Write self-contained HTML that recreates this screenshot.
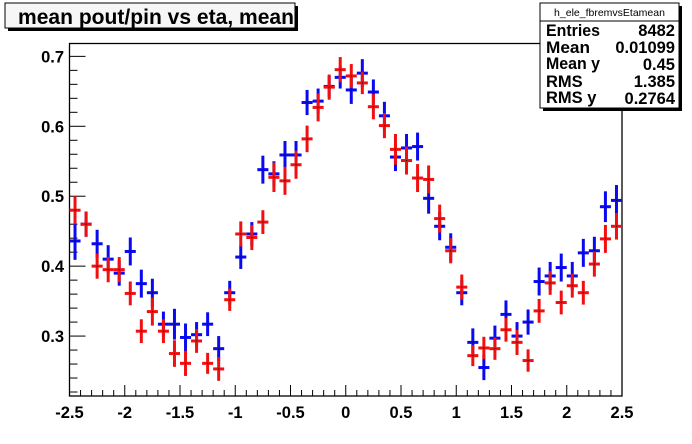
<!DOCTYPE html>
<html><head><meta charset="utf-8"><style>
body{margin:0;background:#fff;}
svg{display:block;font-family:"Liberation Sans",sans-serif;font-weight:bold;}
</style></head><body>
<svg id="chart" width="692" height="444" viewBox="0 0 692 444">
<rect x="0" y="0" width="692" height="444" fill="#fff"/>
<g>
<rect x="8" y="6" width="290" height="25" fill="#000"/>
<rect x="5" y="3" width="290" height="25" fill="#f6f6f6" stroke="#000" stroke-width="1"/>
<text x="18" y="24" font-size="21" textLength="276" lengthAdjust="spacingAndGlyphs">mean pout/pin vs eta, mean</text>
</g>
<rect x="69.5" y="43.5" width="552.5" height="352.5" fill="none" stroke="#000" stroke-width="1.3"/>
<g id="axes"></g>
<g id="marks"></g>
<g>
<rect x="543" y="6" width="139" height="105" fill="#000"/>
<rect x="540" y="3" width="139" height="105" fill="#fff" stroke="#000" stroke-width="1"/>
<line x1="540" y1="21" x2="679" y2="21" stroke="#000"/>
<text x="609.5" y="16" font-size="10.5" text-anchor="middle" font-weight="normal">h_ele_fbremvsEtamean</text>
<g font-size="16.5">
<text x="546" y="36" textLength="54" lengthAdjust="spacingAndGlyphs">Entries</text><text x="675" y="36" text-anchor="end">8482</text>
<text x="546" y="53" textLength="44" lengthAdjust="spacingAndGlyphs">Mean</text><text x="675" y="53" text-anchor="end">0.01099</text>
<text x="546" y="69" textLength="54" lengthAdjust="spacingAndGlyphs">Mean y</text><text x="675" y="70" text-anchor="end">0.45</text>
<text x="546" y="87">RMS</text><text x="675" y="87" text-anchor="end">1.385</text>
<text x="546" y="103">RMS y</text><text x="675" y="104" text-anchor="end">0.2764</text>
</g>
</g>
</svg>
<script>
const xTicks = [-2.5,-2,-1.5,-1,-0.5,0,0.5,1,1.5,2,2.5];
const xTickLabels = ["-2.5","-2","-1.5","-1","-0.5","0","0.5","1","1.5","2","2.5"];
const yTicks = [0.3,0.4,0.5,0.6,0.7];
const yTickLabels = ["0.3","0.4","0.5","0.6","0.7"];
const binCenters = [-2.45,-2.35,-2.25,-2.15,-2.05,-1.95,-1.85,-1.75,-1.65,-1.55,-1.45,-1.35,-1.25,-1.15,-1.05,-0.95,-0.85,-0.75,-0.65,-0.55,-0.45,-0.35,-0.25,-0.15,-0.05,0.05,0.15,0.25,0.35,0.45,0.55,0.65,0.75,0.85,0.95,1.05,1.15,1.25,1.35,1.45,1.55,1.65,1.75,1.85,1.95,2.05,2.15,2.25,2.35,2.45];
const blueValues = [0.436,0.46,0.432,0.41,0.39,0.421,0.375,0.362,0.317,0.317,0.298,0.302,0.317,0.282,0.362,0.413,0.446,0.538,0.532,0.559,0.559,0.634,0.636,0.657,0.67,0.652,0.676,0.649,0.615,0.556,0.569,0.571,0.497,0.457,0.427,0.362,0.291,0.255,0.297,0.331,0.3,0.32,0.378,0.386,0.398,0.386,0.419,0.422,0.485,0.494];
const redValues = [0.48,0.46,0.4,0.395,0.395,0.361,0.307,0.335,0.307,0.275,0.261,0.293,0.261,0.253,0.352,0.446,0.441,0.463,0.527,0.522,0.545,0.582,0.627,0.656,0.681,0.672,0.662,0.628,0.601,0.567,0.551,0.526,0.524,0.468,0.422,0.37,0.272,0.283,0.282,0.309,0.291,0.265,0.336,0.376,0.348,0.372,0.362,0.403,0.439,0.457];
const blueErrors = [0.027,0.018,0.02,0.02,0.018,0.02,0.02,0.02,0.018,0.022,0.02,0.018,0.017,0.018,0.017,0.017,0.017,0.02,0.018,0.02,0.02,0.018,0.018,0.015,0.016,0.02,0.02,0.018,0.02,0.02,0.02,0.02,0.022,0.02,0.02,0.018,0.02,0.018,0.018,0.02,0.02,0.018,0.02,0.02,0.02,0.02,0.02,0.02,0.022,0.022];
const redErrors = [0.02,0.018,0.018,0.018,0.018,0.017,0.017,0.02,0.017,0.019,0.018,0.017,0.015,0.017,0.016,0.018,0.018,0.017,0.021,0.02,0.02,0.019,0.02,0.018,0.018,0.017,0.016,0.018,0.018,0.022,0.02,0.02,0.02,0.02,0.018,0.018,0.015,0.016,0.016,0.017,0.018,0.016,0.017,0.017,0.017,0.017,0.017,0.018,0.02,0.019];
const X0=69.5,X1=622,Y0=396,Y1=43.5;
const xmin=-2.5,xmax=2.5,ymin=0.2143,ymax=0.7184;
const sx=v=>X0+(v-xmin)/(xmax-xmin)*(X1-X0);
const sy=v=>Y0-(v-ymin)/(ymax-ymin)*(Y0-Y1);
const NS="http://www.w3.org/2000/svg";
const axes=document.getElementById('axes');
const marks=document.getElementById('marks');
function mk(tag,attrs,parent){const e=document.createElementNS(NS,tag);for(const k in attrs)e.setAttribute(k,attrs[k]);parent.appendChild(e);return e;}
for(let i=0;i<=50;i++){
  const v=xmin+i*0.1;const major=(i%5===0);
  const t=mk('line',{x1:sx(v),x2:sx(v),y1:Y0,y2:Y0-(major?11:6),stroke:'#000','stroke-width':1},axes);
  
  
}
xTicks.forEach((v,i)=>{
  const t=mk('text',{x:sx(v),y:418,'font-size':16.5,'text-anchor':'middle'},axes);
  t.textContent=xTickLabels[i];
  
  
});
for(let v=0.22;v<0.7184;v+=0.02){
  const vv=Math.round(v*100)/100;const major=Math.abs(vv*10-Math.round(vv*10))<1e-6;
  const t=mk('line',{x1:X0,x2:X0+(major?16:8),y1:sy(vv),y2:sy(vv),stroke:'#000','stroke-width':1},axes);
  
  
}
yTicks.forEach((v,i)=>{
  const t=mk('text',{x:64,y:sy(v)+6,'font-size':16.5,'text-anchor':'end'},axes);
  t.textContent=yTickLabels[i];
  
  
});
function series(vals,errs,color,name){
  const g=mk('g',{},marks);
  
  
  const hw=(sx(0.1)-sx(0))/2;
  binCenters.forEach((c,i)=>{
    const x=sx(c),y=sy(vals[i]);
    const p=mk('g',{},g);
    
    
    mk('line',{x1:x,x2:x,y1:sy(vals[i]+errs[i]),y2:sy(vals[i]-errs[i]),stroke:color,'stroke-width':3},p);
    mk('line',{x1:x-hw,x2:x+hw,y1:y,y2:y,stroke:color,'stroke-width':3},p);
    mk('rect',{x:x-0.5,y:y-0.5,width:1,height:1,fill:'#000'},p);
  });
}
series(blueValues,blueErrors,'#0a0af0','blue');
series(redValues,redErrors,'#f01010','red');
</script>
</body></html>
